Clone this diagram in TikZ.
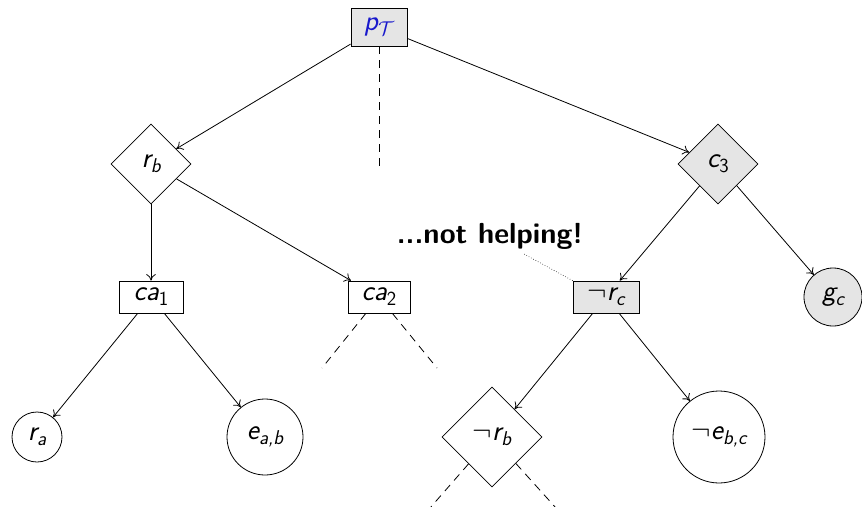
\RequirePackage{fix-cm}
\documentclass[tikz,border=0pt]{standalone}
\usepackage{fontspec}
\usetikzlibrary{shapes.geometric,arrows.meta}
% sans oblique label with a lowered, smaller index
\newcommand\lab[2]{#1\raisebox{-0.17em}{\fontsize{20}{20}\selectfont #2}}
\definecolor{rootblue}{rgb}{0.1,0.1,0.8}
\begin{document}
\begin{tikzpicture}[x=1pt,y=-1pt, line width=0.8pt,
  every node/.style={font=\fontsize{29}{32}\selectfont\sffamily\itshape, inner sep=0pt},
  box/.style={draw, rectangle, minimum height=32pt},
  dia/.style={draw, diamond, minimum size=80pt},
  leaf/.style={draw, circle},
  shade/.style={fill=black!10},
  arr/.style={->, >={To[length=6.5pt,width=9.5pt]}},
  cut/.style={dash pattern=on 8pt off 6pt}]
\useasboundingbox (0,0) rectangle (862,506);

% root and its children
\node[box, shade, minimum width=56pt, minimum height=38pt, text=rootblue] (p) at (379,27) {\lab{p}{$\mathcal{T}$}};
\node[dia] (rb) at (151,164) {\lab{r}{b}};
\node[dia, shade] (c3) at (718,164) {\lab{c}{\upshape 3}};
\coordinate (pcut) at (379,166);

% second level
\node[box, minimum width=64pt] (ca1) at (151,297) {\lab{ca}{\upshape 1}};
\node[box, minimum width=62pt] (ca2) at (379,297) {\lab{ca}{\upshape 2}};
\node[box, shade, minimum width=66pt] (nrc) at (606,297) {$\neg$\lab{r}{c}};
\node[leaf, shade, minimum size=58pt] (gc) at (833,297) {\lab{g}{c}};

% leaves
\node[leaf, minimum size=50pt] (ra) at (37,437) {\lab{r}{a}};
\node[leaf, minimum size=76pt] (eab) at (265,437) {\lab{e}{a,b}};
\node[draw, diamond, minimum size=100pt] (nrb) at (492,437) {$\neg$\lab{r}{b}};
\node[leaf, minimum size=92pt] (nebc) at (719,437) {$\neg$\lab{e}{b,c}};

% pruned branches
\coordinate (ca2l) at (322,368);
\coordinate (ca2r) at (437,368);
\coordinate (nrbl) at (430,508);
\coordinate (nrbr) at (556,508);

% remark
\node[font=\fontsize{29}{32}\selectfont\sffamily\bfseries] (help) at (490,236) {...not helping!};
\coordinate (helpend) at (524,254);

% edges
\draw[arr] (p) -- (rb);
\draw[arr] (p) -- (c3);
\draw[arr] (rb) -- (ca1);
\draw[arr] (rb) -- (ca2);
\draw[arr] (c3) -- (nrc);
\draw[arr] (c3) -- (gc);
\draw[arr] (ca1) -- (ra);
\draw[arr] (ca1) -- (eab);
\draw[arr] (nrc) -- (nrb);
\draw[arr] (nrc) -- (nebc);

\draw[cut] (p) -- (pcut);
\draw[cut] (ca2) -- (ca2l);
\draw[cut] (ca2) -- (ca2r);
\draw[cut] (nrb) -- (nrbl);
\draw[cut] (nrb) -- (nrbr);
\draw[dotted, line width=0.6pt] (nrc.north west) -- (helpend);
\end{tikzpicture}
\end{document}
